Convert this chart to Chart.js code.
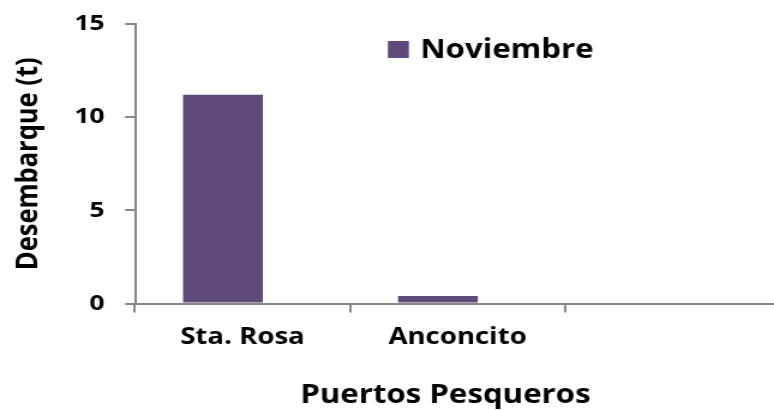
<!DOCTYPE html>
<html>
<head>
<meta charset="utf-8">
<script src="https://cdn.jsdelivr.net/npm/chart.js@4.4.0/dist/chart.umd.min.js"></script>
<style>
  html, body { margin: 0; padding: 0; overflow: hidden; background: #fff; }
  #grafico { display: block; }
</style>
</head>
<body>
<!-- the original picture is stretched sideways, so the canvas is drawn narrower and widened by css -->
<canvas id="grafico" width="650" height="410" style="width:780px;height:410px"></canvas>
<script>
const categorias = ['Sta. Rosa', 'Anconcito', ''];
const noviembre = [11.2, 0.4, null];
// empty second series of the original sheet, it keeps the bar left of the label
const serieVacia = [null, null, null];
const ticksY = [0, 5, 10, 15];

const gris = '#878787';
const morado = '#604A7B';

Chart.defaults.font.family = "'Open Sans', sans-serif";
Chart.defaults.color = '#000';

const leyenda = {
  id: 'leyenda',
  afterDraw(chart) {
    const { ctx, chartArea } = chart;
    const ds = chart.data.datasets[0];
    const x = chartArea.left + chartArea.width * 0.392;
    ctx.save();
    ctx.fillStyle = ds.backgroundColor;
    ctx.fillRect(x, 41, 17.5, 17);
    ctx.fillStyle = '#000';
    ctx.font = "bold 26px 'Open Sans'";
    ctx.textBaseline = 'alphabetic';
    ctx.fillText(ds.label, x + 27, 58);
    ctx.restore();
  },
};

new Chart(document.getElementById('grafico'), {
  type: 'bar',
  data: {
    labels: categorias,
    datasets: [
      {
        label: 'Noviembre',
        data: noviembre,
        backgroundColor: morado,
        categoryPercentage: 0.364,
        barPercentage: 2.04,
      },
      {
        label: '',
        data: serieVacia,
        backgroundColor: 'transparent',
        categoryPercentage: 0.364,
        barPercentage: 2.04,
      },
    ],
  },
  plugins: [leyenda],
  options: {
    responsive: false,
    animation: false,
    layout: { padding: { top: 24, right: 0, bottom: 0, left: 0 } },
    plugins: {
      legend: { display: false },
      tooltip: { enabled: false },
    },
    scales: {
      x: {
        grid: {
          offset: true,
          drawOnChartArea: false,
          tickLength: 9,
          color: gris,
          lineWidth: 2,
        },
        border: { color: gris, width: 2 },
        ticks: {
          font: { size: 23, weight: 'bold' },
          padding: 11,
          autoSkip: false,
          maxRotation: 0,
        },
        title: {
          display: true,
          // trailing spaces: the original title sits a little left of centre
          text: 'Puertos Pesqueros\u00a0\u00a0\u00a0',
          font: { size: 26, weight: 'bold', lineHeight: 1.1 },
          padding: 0,
        },
        afterFit: (s) => {
          s.height = 106.5;
        },
      },
      y: {
        min: 0,
        max: 15,
        grid: {
          drawOnChartArea: false,
          tickLength: 8.3,
          color: gris,
          lineWidth: 2,
        },
        border: { color: gris, width: 2 },
        ticks: {
          font: { size: 22, weight: 'bold' },
          padding: 17,
        },
        afterBuildTicks: (s) => {
          s.ticks = ticksY.map((v) => ({ value: v }));
        },
        title: {
          display: true,
          text: 'Desembarque (t)',
          font: { size: 25.5, weight: 'bold' },
          padding: { top: 8, bottom: 0 },
        },
        afterFit: (s) => {
          s.width = 112.5;
          s.paddingTop = 0;
          s.paddingBottom = 0;
        },
      },
    },
  },
});
</script>
</body>
</html>
